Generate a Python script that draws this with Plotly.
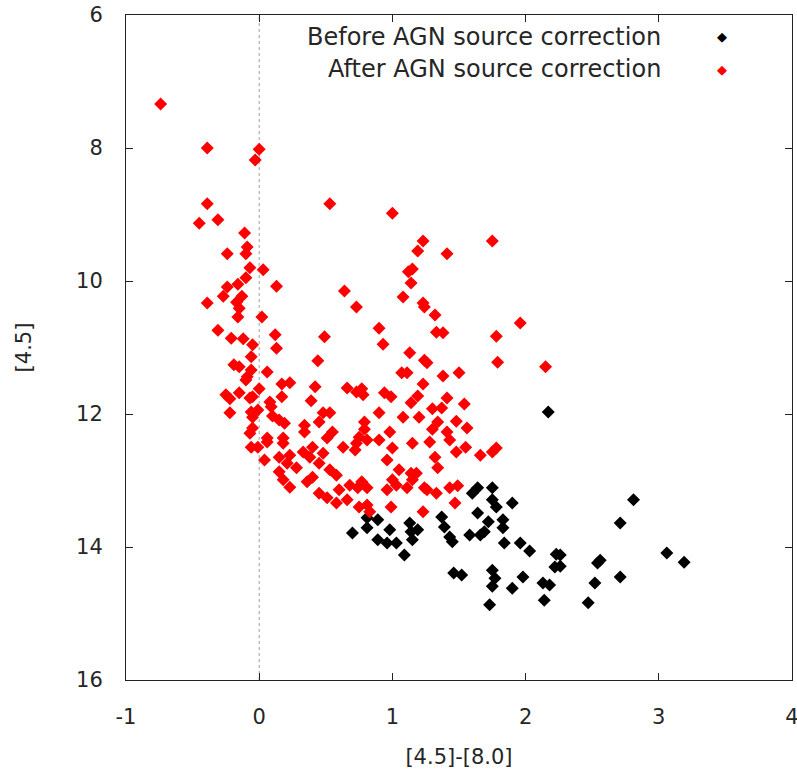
import plotly.graph_objects as go

# "After AGN source correction" (red)
after_x = [-0.74, -0.39, 0.00, -0.03, 0.53, -0.39, -0.45, -0.31, -0.11, -0.09, -0.24, -0.10,
           1.00, 1.75, 1.23, 1.19, 1.41, -0.07, 0.03, -0.10, -0.16, 0.13, -0.24, -0.27, -0.13,
           -0.17, -0.39, -0.15, -0.16, 0.02, -0.31, -0.21, -0.12, 0.12, 0.49, -0.05, 0.13, -0.06,
           0.44, -0.19, -0.15, -0.06, 0.06, -0.09, -0.10, 0.17, 0.23, 0.00, 0.42, -0.25, -0.15,
           -0.22, -0.07, -0.05, 0.17, 0.08, 0.39, 0.09, -0.01, -0.06, -0.22, -0.05, 0.10, 0.15,
           0.19, 0.48, 0.53, 0.45, 0.34, -0.05, -0.07, 0.34, 0.55, 0.06, 0.18, 0.51,
           0.64, 1.12, 1.15, 1.14, 1.08, 1.23, 1.24, 0.73, 1.32, 1.96, 0.90, 1.33, 1.38, 1.78,
           0.93, 1.13, 1.24, 1.26, 1.79, 2.15, 1.07, 1.11, 1.38, 1.50, 1.23, 0.66, 0.73, 0.77,
           0.78, 0.94, 0.99, 1.19, 1.14, 1.41, 1.54, 1.30, 1.37, 0.90, 1.08, 1.20, 0.79, 1.34,
           1.48, 0.79, 0.98, 1.30, 1.41, 1.56, 0.90, 1.15, -0.06, -0.01, 0.06, 0.18, 0.33, 0.40,
           0.48, 0.63, 0.73, 0.75, 0.81, 0.72, 1.00, 0.04, 0.15, 0.23, 0.21, 0.28, 0.38, 0.45,
           0.53, 0.58, 0.96, 1.05, 1.14, 0.15, 0.18, 0.23, 0.36, 0.40, 0.45, 0.51, 0.58, 0.66,
           0.60, 0.68, 0.74, 0.77, 0.81, 1.00, 1.03, 1.11, 0.96, 1.15, 1.18, 1.24, 0.75, 0.81,
           0.83, 0.99, 1.23, 1.43, 1.28, 1.48, 1.55, 1.66, 1.75, 1.78, 1.32, 1.34, 1.26, 1.33,
           1.43, 1.49, 1.47]
after_y = [7.34, 8.00, 8.02, 8.18, 8.84, 8.84, 9.13, 9.08, 9.28, 9.49, 9.59, 9.59,
           8.98, 9.40, 9.40, 9.55, 9.59, 9.80, 9.83, 9.95, 10.05, 10.08, 10.09, 10.23, 10.23,
           10.32, 10.33, 10.41, 10.54, 10.54, 10.74, 10.86, 10.87, 10.81, 10.84, 10.96, 11.01, 11.14,
           11.20, 11.26, 11.29, 11.34, 11.37, 11.44, 11.49, 11.55, 11.53, 11.62, 11.59, 11.71, 11.68,
           11.77, 11.76, 11.74, 11.74, 11.82, 11.80, 11.89, 11.94, 11.97, 11.98, 12.05, 12.03, 12.09,
           12.14, 11.98, 11.98, 12.12, 12.17, 12.21, 12.29, 12.27, 12.27, 12.36, 12.36, 12.36,
           10.15, 9.86, 9.82, 10.03, 10.24, 10.33, 10.39, 10.39, 10.51, 10.63, 10.71, 10.77, 10.78, 10.83,
           10.95, 11.08, 11.19, 11.23, 11.22, 11.29, 11.38, 11.38, 11.43, 11.38, 11.55, 11.61, 11.67, 11.62,
           11.71, 11.68, 11.74, 11.73, 11.83, 11.76, 11.85, 11.92, 11.91, 11.98, 12.05, 12.05, 12.12, 12.12,
           12.11, 12.23, 12.27, 12.23, 12.27, 12.21, 12.39, 12.44, 12.50, 12.50, 12.42, 12.44, 12.57, 12.50,
           12.59, 12.50, 12.44, 12.35, 12.39, 12.54, 12.51, 12.69, 12.65, 12.62, 12.74, 12.81, 12.65, 12.74,
           12.84, 12.92, 12.69, 12.84, 12.89, 12.87, 12.99, 13.10, 13.02, 12.95, 13.19, 13.26, 13.34, 13.29,
           13.14, 13.07, 13.11, 13.02, 13.11, 12.99, 13.07, 13.11, 13.14, 12.99, 12.89, 13.11, 13.40, 13.37,
           13.47, 13.40, 13.47, 12.39, 12.42, 12.57, 12.50, 12.62, 12.57, 12.51, 12.65, 12.81, 13.14, 13.19,
           13.11, 13.08, 13.34]

# "Before AGN source correction" (black), visible points only
before_x = [2.17, 0.70, 0.81, 0.89, 0.81, 0.89, 0.98, 0.96, 1.03, 1.13, 1.14, 1.19, 1.15, 1.09,
            1.64, 1.60, 1.75, 1.75, 1.78, 1.90, 1.64, 1.37, 1.72, 1.39, 1.83, 1.83, 1.58, 1.66,
            1.69, 1.43, 1.45, 1.84, 1.96, 2.03, 2.23, 2.22, 1.46, 1.52, 1.75, 1.77, 1.75, 1.98,
            1.90, 2.13, 2.18, 2.14, 1.73, 2.81, 2.71, 2.56, 2.54, 2.52, 2.47, 2.71, 3.06, 3.19,
            2.26, 2.26]
before_y = [11.97, 13.79, 13.56, 13.59, 13.71, 13.89, 13.74, 13.94, 13.94, 13.64, 13.77, 13.74, 13.89, 14.12,
            13.11, 13.19, 13.11, 13.29, 13.40, 13.34, 13.49, 13.55, 13.62, 13.70, 13.59, 13.71, 13.82, 13.82,
            13.77, 13.85, 13.92, 13.94, 13.94, 14.06, 14.11, 14.30, 14.39, 14.42, 14.35, 14.47, 14.59, 14.45,
            14.62, 14.54, 14.57, 14.80, 14.87, 13.29, 13.64, 14.20, 14.24, 14.54, 14.84, 14.45, 14.09, 14.23,
            14.12, 14.29]

legend_labels = ["Before AGN source correction", "After AGN source correction"]
x_ticks = [-1, 0, 1, 2, 3, 4]
y_ticks = [6, 8, 10, 12, 14, 16]

FONT = "DejaVu Sans, Verdana, sans-serif"
TXT = "#262626"

fig = go.Figure()
fig.add_trace(go.Scatter(x=before_x, y=before_y, mode="markers", name=legend_labels[0],
                         marker=dict(symbol="diamond", size=10, color="black", line=dict(width=0))))
fig.add_trace(go.Scatter(x=after_x, y=after_y, mode="markers", name=legend_labels[1],
                         marker=dict(symbol="diamond", size=10, color="red", line=dict(width=0))))

fig.add_shape(type="line", xref="x", yref="paper", x0=0, x1=0, y0=0, y1=1,
              line=dict(color="#a0a0a0", width=1, dash="dot"), layer="below")

# gnuplot-style legend: text right-aligned, symbol to the right
for i, (lab, col) in enumerate(zip(legend_labels, ["black", "red"])):
    ypos = 1 - (22 + i * 32) / 665
    fig.add_annotation(xref="paper", yref="paper", x=(663 - 126) / 666, y=ypos, text=lab,
                       showarrow=False, xanchor="right", yanchor="middle",
                       font=dict(family=FONT, size=24, color=TXT))
    fig.add_annotation(xref="paper", yref="paper", x=(722 - 126) / 666, y=ypos, text="◆",
                       showarrow=False, xanchor="center", yanchor="middle",
                       font=dict(family="DejaVu Sans", size=13, color=col))

axis_common = dict(showgrid=False, zeroline=False, showline=True, linecolor="#222222", linewidth=1,
                   mirror="ticks", ticks="inside", ticklen=7, tickcolor="#222222",
                   ticklabelstandoff=18, ticklabeloverflow="allow", automargin=False,
                   tickfont=dict(family=FONT, size=21, color=TXT))

fig.update_layout(
    width=797, height=776,
    margin=dict(l=126, r=5, t=15, b=96),
    plot_bgcolor="white", paper_bgcolor="white",
    showlegend=False,
    xaxis=dict(range=[-1, 4], tickvals=x_ticks, ticktext=[str(v) for v in x_ticks],
               title=dict(text="[4.5]-[8.0]", font=dict(family=FONT, size=21, color=TXT), standoff=21),
               **axis_common),
    yaxis=dict(range=[16, 6], tickvals=y_ticks, ticktext=[str(v) for v in y_ticks],
               title=dict(text="[4.5]", font=dict(family=FONT, size=21, color=TXT), standoff=38),
               **axis_common),
)

fig.write_html("out.html")
